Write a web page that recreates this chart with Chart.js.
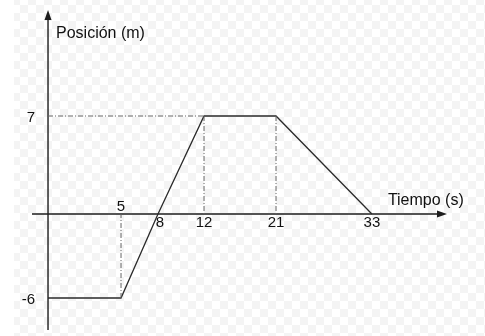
<!DOCTYPE html>
<html>
<head>
<meta charset="utf-8">
<script src="https://cdn.jsdelivr.net/npm/chart.js@4"></script>
<style>
  html, body { margin: 0; padding: 0; background: #fff; }
  #wrap { position: relative; width: 485px; height: 336px; background: #fff; }
  #bg {
    position: absolute; left: 14px; top: 0; right: 0; bottom: 0;
    background-color: #fff;
    background-image: conic-gradient(#f4f4f4 25%, #fff 0 50%, #f4f4f4 0 75%, #fff 0);
    background-size: 16px 16px;
    background-position: 14px 5px;
  }
  canvas { position: absolute; left: 0; top: 0; }
</style>
</head>
<body>
<div id="wrap"><div id="bg"></div><canvas id="chart"></canvas></div>
<script>
// data
const time = [0, 5, 8, 12, 21, 33];
const position = [-6, -6, 0, 7, 7, 0];
const xTicks = [5, 8, 12, 21, 33];
const yTicks = [7, -6];
const xTitle = 'Tiempo (s)';
const yTitle = 'Posición (m)';
// points that get a dash-dot drop line to the time axis
const dropAt = [1, 3, 4];
// point that gets a dash-dot line across to the position axis
const levelAt = [3];

// the drawing is not to scale along time: where each time value sits (0..1 of the plot width)
const xStops = [0.0386, 0.2145, 0.3036, 0.4145, 0.588, 0.819];

class SchematicScale extends Chart.LinearScale {
  static id = 'schematic';
  static defaults = Chart.LinearScale.defaults;

  toDecimal(v) {
    let i = 0;
    while (i < time.length - 2 && v > time[i + 1]) i++;
    const t = (v - time[i]) / (time[i + 1] - time[i]);
    return xStops[i] + t * (xStops[i + 1] - xStops[i]);
  }
  getPixelForValue(v) {
    return this.getPixelForDecimal(this.toDecimal(v));
  }
  getValueForPixel(p) {
    const d = this.getDecimalForPixel(p);
    let i = 0;
    while (i < xStops.length - 2 && d > xStops[i + 1]) i++;
    const t = (d - xStops[i]) / (xStops[i + 1] - xStops[i]);
    return time[i] + t * (time[i + 1] - time[i]);
  }
}
Chart.register(SchematicScale);

const guides = [];
dropAt.forEach(i => guides.push([{ x: time[i], y: position[i] }, { x: time[i], y: 0 }]));
levelAt.forEach(i => guides.push([{ x: 0, y: position[i] }, { x: time[i], y: position[i] }]));

const guideSets = guides.map(g => ({
  data: g,
  borderColor: '#666',
  borderWidth: 1,
  borderDash: [5, 2, 1, 2],
  pointRadius: 0,
  tension: 0
}));

const axesPlugin = {
  id: 'axes',
  beforeDatasetsDraw(chart) {
    const { ctx, chartArea, scales } = chart;
    const x0 = scales.x.getPixelForValue(0);
    const y0 = scales.y.getPixelForValue(0);
    ctx.save();
    ctx.strokeStyle = '#1e1e1e';
    ctx.fillStyle = '#1e1e1e';
    ctx.lineWidth = 1.4;
    ctx.beginPath();
    ctx.moveTo(chartArea.left, y0);
    ctx.lineTo(chartArea.right - 6, y0);
    ctx.moveTo(x0, chartArea.bottom);
    ctx.lineTo(x0, chartArea.top + 6);
    ctx.stroke();
    // arrow heads
    ctx.beginPath();
    ctx.moveTo(chartArea.right, y0);
    ctx.lineTo(chartArea.right - 10, y0 - 3.5);
    ctx.lineTo(chartArea.right - 10, y0 + 3.5);
    ctx.closePath();
    ctx.moveTo(x0, chartArea.top);
    ctx.lineTo(x0 - 3.5, chartArea.top + 10);
    ctx.lineTo(x0 + 3.5, chartArea.top + 10);
    ctx.closePath();
    ctx.fill();
    ctx.restore();
  },
  afterDatasetsDraw(chart) {
    const { ctx, scales } = chart;
    const x0 = scales.x.getPixelForValue(0);
    const y0 = scales.y.getPixelForValue(0);
    ctx.save();
    ctx.fillStyle = '#111';
    ctx.font = '15px "Liberation Sans", Arial, sans-serif';
    ctx.textAlign = 'center';
    ctx.textBaseline = 'middle';
    xTicks.forEach(v => {
      const i = time.indexOf(v);
      const below = i < 0 || position[i] >= 0;
      const dx = position[i] === 0 && i > 0 && i < time.length - 1 ? 2 : 0;
      ctx.fillText(String(v), scales.x.getPixelForValue(v) + dx, below ? y0 + 9 : y0 - 7);
    });
    ctx.textAlign = 'right';
    yTicks.forEach(v => {
      ctx.fillText(String(v), x0 - 13, scales.y.getPixelForValue(v) + 2);
    });
    ctx.font = '16px "Liberation Sans", Arial, sans-serif';
    ctx.textAlign = 'left';
    ctx.fillText(yTitle, x0 + 8, scales.y.top + 24);
    ctx.fillText(xTitle, scales.x.getPixelForValue(time[time.length - 1]) + 16, y0 - 13);
    ctx.restore();
  }
};

new Chart(document.getElementById('chart'), {
  type: 'line',
  data: {
    datasets: [
      ...guideSets,
      {
        data: time.map((t, i) => ({ x: t, y: position[i] })),
        borderColor: '#2a2a2a',
        borderWidth: 1.3,
        pointRadius: 0,
        tension: 0
      }
    ]
  },
  options: {
    responsive: true,
    maintainAspectRatio: false,
    animation: false,
    layout: { padding: { left: 32, right: 38, top: 10, bottom: 6 } },
    plugins: { legend: { display: false }, tooltip: { enabled: false } },
    scales: {
      x: { type: 'schematic', display: false, min: -1, max: 42 },
      y: { type: 'linear', display: false, min: -116 / 14, max: 204 / 14 }
    }
  },
  plugins: [axesPlugin]
});
</script>
</body>
</html>
